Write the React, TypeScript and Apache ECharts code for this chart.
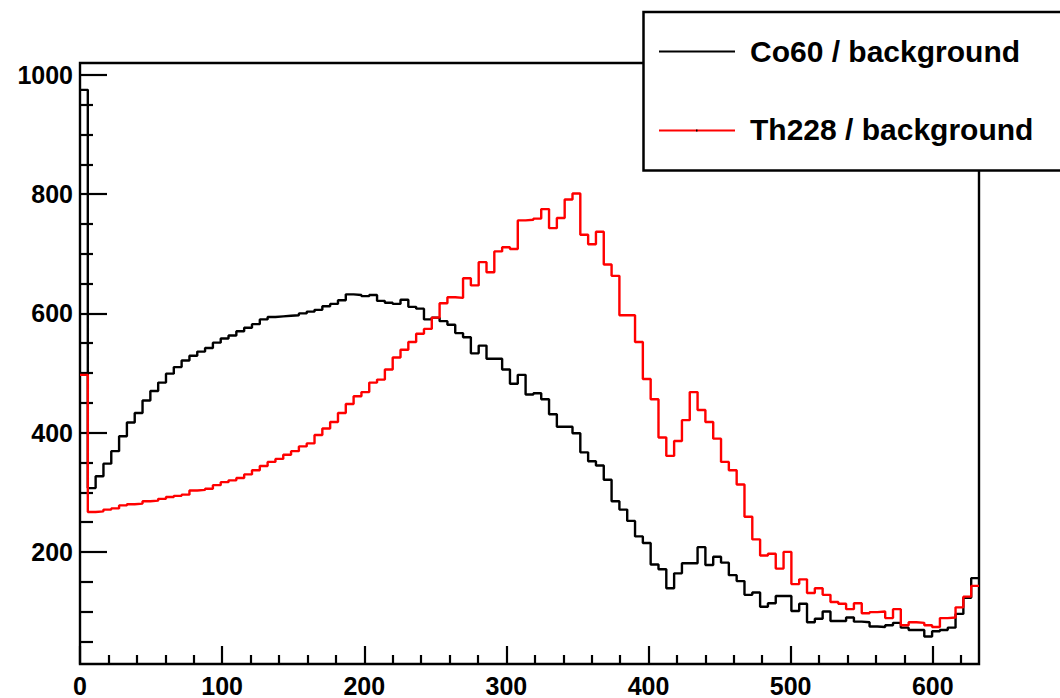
import React, { useEffect, useRef } from "react";
import * as echarts from "echarts";

// Histogram bin contents (115 bins, width 5.5)
const BIN_WIDTH = 5.5;
const co60: number[] = [
  975, 307, 327, 348, 369, 394, 417, 433, 454, 470,
  484, 499, 510, 521, 529, 536, 542, 551, 558, 563,
  570, 576, 582, 590, 594, 595, 596, 597, 600, 603,
  606, 612, 616, 622, 632, 631, 629, 631, 621, 618,
  616, 623, 611, 608, 590, 593, 587, 581, 567, 560,
  533, 546, 524, 524, 506, 482, 497, 464, 466, 456,
  431, 410, 410, 399, 367, 352, 345, 321, 285, 271,
  252, 226, 215, 179, 171, 139, 164, 181, 181, 208,
  178, 192, 182, 161, 151, 128, 132, 108, 114, 126,
  126, 101, 113, 82, 88, 100, 84, 84, 90, 83,
  82, 75, 74, 77, 81, 73, 69, 69, 58, 67,
  69, 73, 96, 123, 156,
];
const th228: number[] = [
  497, 267, 268, 271, 273, 278, 280, 281, 285, 286,
  289, 292, 294, 296, 303, 304, 306, 312, 317, 320,
  324, 330, 337, 344, 351, 356, 363, 369, 377, 382,
  396, 407, 418, 433, 448, 461, 468, 484, 489, 506,
  526, 539, 552, 566, 574, 593, 617, 627, 626, 659,
  647, 686, 669, 704, 711, 708, 756, 757, 759, 775,
  743, 760, 791, 801, 732, 716, 737, 682, 663, 597,
  597, 552, 490, 456, 392, 361, 386, 421, 468, 438,
  418, 390, 351, 337, 313, 259, 221, 194, 197, 172,
  200, 146, 154, 131, 139, 128, 116, 113, 104, 114,
  97, 99, 100, 89, 104, 77, 82, 81, 77, 74,
  89, 90, 107, 125, 143,
];
const xMajorTicks = [0, 100, 200, 300, 400, 500, 600];
const xMinorTicks = [20, 40, 60, 80, 120, 140, 160, 180, 220, 240, 260, 280, 320, 340, 360, 380, 420, 440, 460, 480, 520, 540, 560, 580, 620];
const yMajorTicks = [200, 400, 600, 800, 1000];
const yMinorTicks = [50, 100, 150, 250, 300, 350, 450, 500, 550, 650, 700, 750, 850, 900, 950];
const legendLabels = ["Co60 / background", "Th228 / background"];
const X_MIN = 0;
const X_MAX = co60.length * BIN_WIDTH;
const Y_MIN = 12;
const Y_MAX = 1020;

const FONT = "'Liberation Sans', Arial, Helvetica, sans-serif";

function toSteps(vals: number[]): number[][] {
  const pts = vals.map((v, i) => [i * BIN_WIDTH, v]);
  pts.push([vals.length * BIN_WIDTH, vals[vals.length - 1]]);
  return pts;
}

export default function App() {
  const ref = useRef<HTMLDivElement>(null);
  useEffect(() => {
    if (!ref.current) return;
    const chart = echarts.init(ref.current, null, { renderer: "svg" });
    const labelStyle = {
      color: "#000",
      fontSize: 25,
      fontWeight: "bold" as const,
      fontFamily: FONT,
      formatter: (v: number) => String(v),
      hideOverlap: false,
      showMinLabel: true,
      showMaxLabel: true,
    };
    const tickLine = { color: "#000", width: 2.2 };
    chart.setOption({
      animation: false,
      backgroundColor: "#fff",
      grid: {
        left: 80,
        right: 81,
        top: 63,
        bottom: 29,
        show: true,
        borderColor: "#000",
        borderWidth: 2.4,
        backgroundColor: "transparent",
      },
      xAxis: [
        {
          type: "value",
          min: X_MIN,
          max: X_MAX,
          position: "bottom",
          axisLine: { show: false, onZero: false },
          splitLine: { show: false },
          axisTick: { show: true, inside: true, length: 18, customValues: xMajorTicks, lineStyle: tickLine },
          axisLabel: { ...labelStyle, margin: 9, customValues: xMajorTicks },
        },
        {
          type: "value",
          min: X_MIN,
          max: X_MAX,
          position: "bottom",
          axisLine: { show: false, onZero: false },
          splitLine: { show: false },
          axisTick: { show: true, inside: true, length: 9, customValues: xMinorTicks, lineStyle: tickLine },
          axisLabel: { show: false },
        },
      ],
      yAxis: [
        {
          type: "value",
          min: Y_MIN,
          max: Y_MAX,
          position: "left",
          axisLine: { show: false, onZero: false },
          splitLine: { show: false },
          axisTick: { show: true, inside: true, length: 27, customValues: yMajorTicks, lineStyle: tickLine },
          axisLabel: { ...labelStyle, margin: 7, customValues: yMajorTicks },
        },
        {
          type: "value",
          min: Y_MIN,
          max: Y_MAX,
          position: "left",
          axisLine: { show: false, onZero: false },
          splitLine: { show: false },
          axisTick: { show: true, inside: true, length: 13, customValues: yMinorTicks, lineStyle: tickLine },
          axisLabel: { show: false },
        },
      ],
      series: [
        {
          name: legendLabels[0],
          type: "line",
          step: "end",
          xAxisIndex: 0,
          yAxisIndex: 0,
          showSymbol: false,
          symbol: "none",
          data: toSteps(co60),
          lineStyle: { color: "#000", width: 2.4 },
          itemStyle: { color: "#000" },
          z: 3,
        },
        {
          name: legendLabels[1],
          type: "line",
          step: "end",
          xAxisIndex: 0,
          yAxisIndex: 0,
          showSymbol: false,
          symbol: "none",
          data: toSteps(th228),
          lineStyle: { color: "#ff0000", width: 2.4 },
          itemStyle: { color: "#ff0000" },
          z: 4,
        },
      ],
      graphic: [
        {
          type: "group",
          z: 100,
          children: [
            {
              type: "rect",
              shape: { x: 643.5, y: 12, width: 440, height: 158.5 },
              style: { fill: "#fff", stroke: "#000", lineWidth: 2.5 },
            },
            {
              type: "line",
              shape: { x1: 659, y1: 51.5, x2: 735, y2: 51.5 },
              style: { stroke: "#000", lineWidth: 2 },
            },
            {
              type: "text",
              x: 750,
              y: 51,
              style: {
                text: legendLabels[0],
                fill: "#000",
                fontSize: 30,
                fontWeight: "bold",
                fontFamily: FONT,
                verticalAlign: "middle",
                align: "left",
              },
            },
            {
              type: "line",
              shape: { x1: 659, y1: 130.5, x2: 735, y2: 130.5 },
              style: { stroke: "#ff0000", lineWidth: 2 },
            },
            {
              type: "rect",
              shape: { x: 696, y: 129.5, width: 1.5, height: 2 },
              style: { fill: "#000" },
            },
            {
              type: "text",
              x: 750,
              y: 129,
              style: {
                text: legendLabels[1],
                fill: "#000",
                fontSize: 30,
                fontWeight: "bold",
                fontFamily: FONT,
                verticalAlign: "middle",
                align: "left",
              },
            },
          ],
        },
      ],
    });
    return () => chart.dispose();
  }, []);
  return (
    <div
      ref={ref}
      style={{ position: "fixed", left: 0, top: 0, width: 1060, height: 698, background: "#fff" }}
    />
  );
}
